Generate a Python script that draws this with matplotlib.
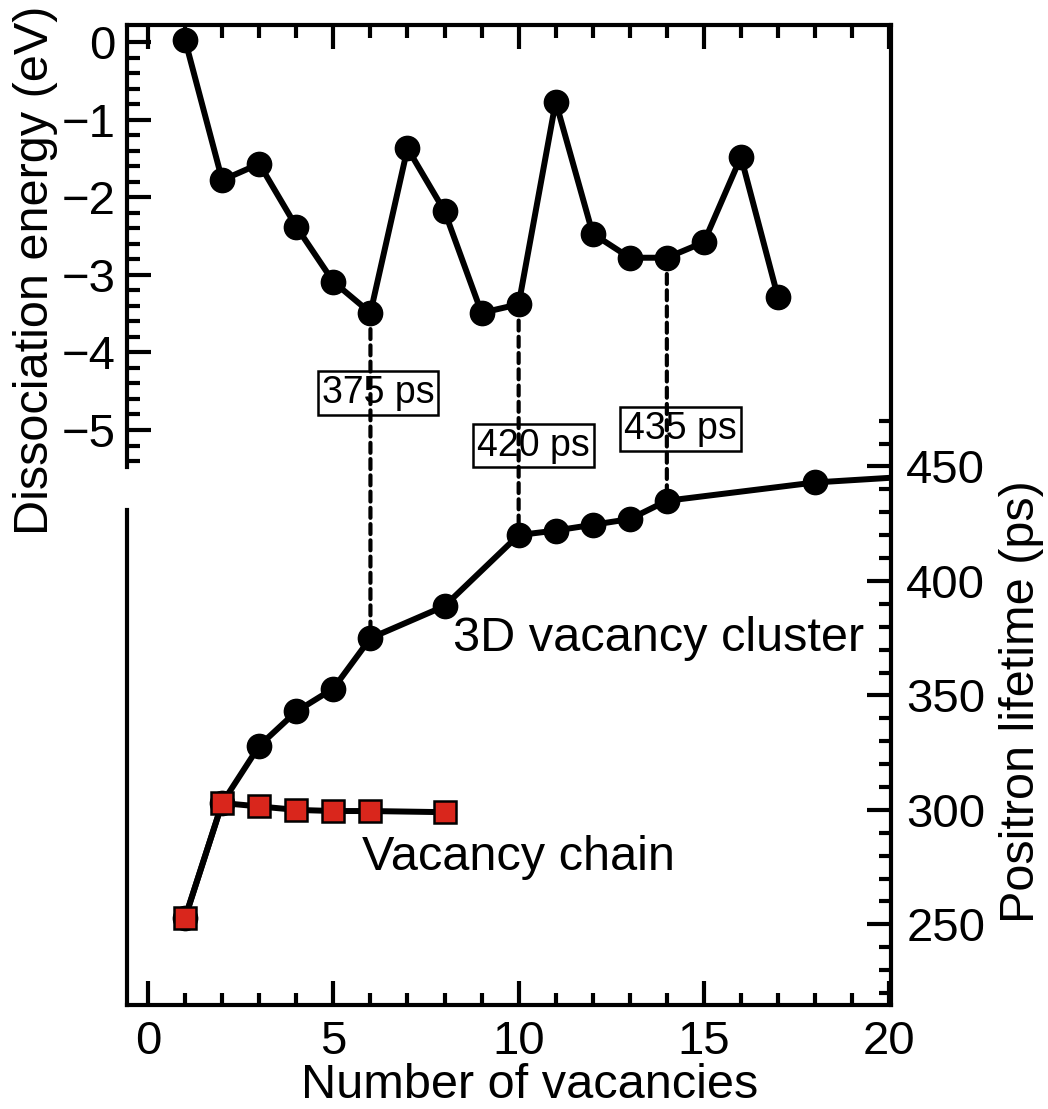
import matplotlib
matplotlib.use('Agg')
import matplotlib.pyplot as plt
from matplotlib.ticker import FixedLocator, FuncFormatter
from matplotlib.patches import ConnectionPatch
import numpy as np

plt.rcParams['font.family'] = ['Liberation Sans', 'DejaVu Sans']

# dissociation energy (eV) vs number of vacancies
n_energy = [1, 2, 3, 4, 5, 6, 7, 8, 9, 10, 11, 12, 13, 14, 15, 16, 17]
energy = [0.02, -1.78, -1.57, -2.38, -3.09, -3.49, -1.37, -2.18, -3.49,
          -3.38, -0.77, -2.47, -2.78, -2.78, -2.58, -1.48, -3.29]

# positron lifetime (ps), 3D vacancy cluster
n_cluster = [1, 2, 3, 4, 5, 6, 8, 10, 11, 12, 13, 14, 18, 22]
lt_cluster = [253, 303, 328, 343, 353, 375, 389, 420, 422, 424.5, 427, 435, 443, 447]

# positron lifetime (ps), vacancy chain
n_chain = [1, 2, 3, 4, 5, 6, 8]
lt_chain = [253, 303, 301.5, 300, 299.5, 299.5, 299]

# marked lifetimes
marked_n = [6, 10, 14]
marked_lbl = ['375 ps', '420 ps', '435 ps']
marked_box = [(6.2, -4.52), (10.4, -5.2), (14.37, -4.99)]

fig = plt.figure(figsize=(10.48, 11.09), dpi=100)
ax1 = fig.add_axes([0.1212, 0.0938, 0.7290, 0.8837])
ax2 = ax1.twinx()

ax1.set_xlim(-0.57, 20.05)
ax1.set_ylim(-12.41, 0.22)
ax2.set_ylim(214.8, 642.8)

lw = 4.3
ms = 17.5
ax1.plot(n_energy, energy, '-o', color='black', lw=lw, ms=ms, zorder=3)
ax2.plot(n_cluster, lt_cluster, '-o', color='black', lw=lw, ms=ms, zorder=3)
ax2.plot(n_chain, lt_chain, '-s', color='black', lw=lw, ms=ms - 1,
         mfc='#d9261c', mec='black', mew=1.8, zorder=4)

# dashed connectors and value boxes
for n, lbl, (bx, by) in zip(marked_n, marked_lbl, marked_box):
    e = energy[n_energy.index(n)]
    t = lt_cluster[n_cluster.index(n)]
    con = ConnectionPatch(xyA=(n, e), coordsA=ax1.transData,
                          xyB=(n, t), coordsB=ax2.transData,
                          linestyle=(0, (2.4, 1.5)), lw=3.0, color='black', zorder=1)
    fig.add_artist(con)
    ax1.text(bx, by, lbl, fontsize=27, ha='center', va='center', zorder=10,
             bbox=dict(boxstyle='square,pad=0.1', fc='white', ec='black', lw=1.8))

ax2.text(8.22, 375, '3D vacancy cluster', fontsize=35, ha='left', va='center')
ax2.text(5.77, 279, 'Vacancy chain', fontsize=35, ha='left', va='center')

# spines
for sp in ['left', 'right', 'top', 'bottom']:
    ax1.spines[sp].set_linewidth(3)
    ax2.spines[sp].set_linewidth(3)
ax1.spines['right'].set_visible(False)
ax2.spines['top'].set_visible(False)
ax2.spines['bottom'].set_visible(False)
ax1.spines['left'].set_bounds(-5.48, 0.22)
ax2.spines['left'].set_bounds(214.8, 431)

# x ticks
ax1.xaxis.set_major_locator(FixedLocator([0, 5, 10, 15, 20]))
ax1.xaxis.set_minor_locator(FixedLocator(list(range(0, 21))))
ax1.tick_params(axis='x', which='both', direction='in', top=True, bottom=True,
                width=3, labelsize=34, pad=11)
ax1.tick_params(axis='x', which='major', length=17)
ax1.tick_params(axis='x', which='minor', length=9)

# left energy ticks
ax1.yaxis.set_major_locator(FixedLocator([0, -1, -2, -3, -4, -5]))
ax1.yaxis.set_minor_locator(FixedLocator(list(np.round(np.arange(-5.4, 0.01, 0.2), 2))))
ax1.yaxis.set_major_formatter(FuncFormatter(lambda v, p: '%d' % v if v == 0 else '\u2212%d' % abs(v)))
ax1.tick_params(axis='y', which='both', direction='in', left=True, right=False,
                width=3, labelsize=34, pad=8)
ax1.tick_params(axis='y', which='major', length=17)
ax1.tick_params(axis='y', which='minor', length=9)

# right lifetime ticks
ax2.yaxis.set_major_locator(FixedLocator([250, 300, 350, 400, 450]))
ax2.yaxis.set_minor_locator(FixedLocator(list(range(220, 471, 10))))
ax2.tick_params(axis='y', which='both', direction='in', left=False, right=True,
                width=3, labelsize=34, pad=11)
ax2.tick_params(axis='y', which='major', length=17)
ax2.tick_params(axis='y', which='minor', length=9)

fig.text(530 / 1048, 1 - 1085 / 1109, 'Number of vacancies', fontsize=35,
         ha='center', va='center')
fig.text(36 / 1048, 1 - 270 / 1109, 'Dissociation energy (eV)', fontsize=35,
         rotation=90, ha='center', va='center')
fig.text(1022 / 1048, 1 - 702 / 1109, 'Positron lifetime (ps)', fontsize=35,
         rotation=90, ha='center', va='center')

fig.savefig('out.png', dpi=100)
